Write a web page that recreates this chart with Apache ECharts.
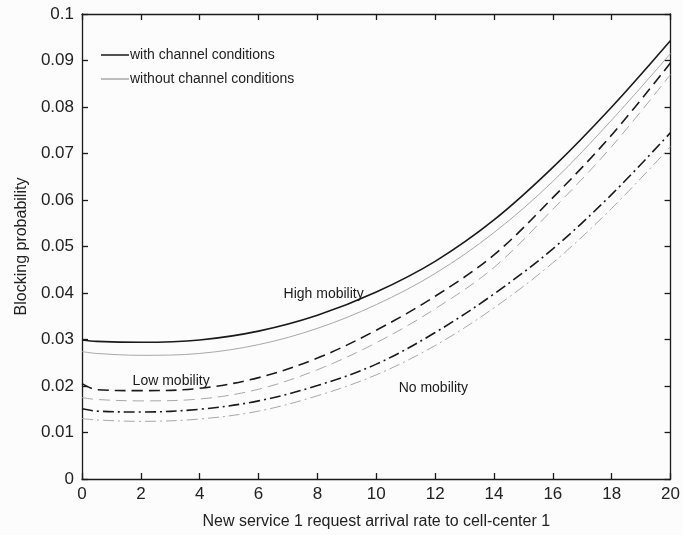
<!DOCTYPE html>
<html>
<head>
<meta charset="utf-8">
<script src="https://cdn.jsdelivr.net/npm/echarts@6/dist/echarts.min.js"></script>
<style>
  html, body { margin: 0; padding: 0; background: #fcfcfc; }
  #chart { width: 683px; height: 535px; }
</style>
</head>
<body>
<div id="chart"></div>
<script>
// Arrival rate samples shared by every curve
const arrivalRate = [0, 0.5, 2, 4, 6, 8, 10, 12, 14, 16, 18, 20];

// Blocking probability, with channel conditions (black curves)
const highWith = [0.0299, 0.0296, 0.0294, 0.0299, 0.0318, 0.0352, 0.0402, 0.0468, 0.0557, 0.0670, 0.0800, 0.0943];
const lowWith  = [0.0205, 0.0192, 0.0190, 0.0195, 0.0218, 0.0260, 0.0320, 0.0393, 0.0482, 0.0605, 0.0740, 0.0895];
const noWith   = [0.0151, 0.0146, 0.0144, 0.0150, 0.0168, 0.0201, 0.0247, 0.0315, 0.0398, 0.0495, 0.0612, 0.0745];

// Blocking probability, without channel conditions (grey curves)
const highWithout = [0.0274, 0.0270, 0.0266, 0.0270, 0.0289, 0.0324, 0.0375, 0.0442, 0.0530, 0.0640, 0.0772, 0.0915];
const lowWithout  = [0.0175, 0.0171, 0.0168, 0.0172, 0.0193, 0.0235, 0.0293, 0.0366, 0.0455, 0.0580, 0.0715, 0.0870];
const noWithout   = [0.0130, 0.0127, 0.0124, 0.0129, 0.0146, 0.0179, 0.0224, 0.0287, 0.0368, 0.0465, 0.0582, 0.0715];

const xTicks = [0, 2, 4, 6, 8, 10, 12, 14, 16, 18, 20];
const yTicks = [0, 0.01, 0.02, 0.03, 0.04, 0.05, 0.06, 0.07, 0.08, 0.09, 0.1];

const legendNames = ['with channel conditions', 'without channel conditions'];

// Curve annotations: text and data-space anchor (left edge, vertical centre)
const notes = [
  { text: 'High mobility', x: 6.85, y: 0.0398 },
  { text: 'Low mobility',  x: 1.72, y: 0.0211 },
  { text: 'No mobility',   x: 10.76, y: 0.0195 }
];

const FONT = '"Liberation Sans", Arial, Helvetica, sans-serif';
const INK = '#1a1a1a';
const GREY = '#a8a8a8';

function pairs(ys) { return arrivalRate.map((x, i) => [x, ys[i]]); }

function curve(name, ys, color, width, dash) {
  return {
    name: name,
    type: 'line',
    data: pairs(ys),
    smooth: 0.35,
    symbol: 'none',
    animation: false,
    lineStyle: { color: color, width: width, type: dash },
    itemStyle: { color: color },
    z: color === INK ? 3 : 2
  };
}

const dashed = [11, 6];
const dashDot = [11, 4, 2, 4];

const axisLineStyle = { color: INK, width: 1.3 };

function xAxisDef(pos, showLabels) {
  return {
    type: 'value', position: pos, min: xTicks[0], max: xTicks[xTicks.length - 1],
    interval: xTicks[1] - xTicks[0],
    axisLine: { show: true, onZero: false, lineStyle: axisLineStyle },
    axisTick: { show: true, inside: true, length: 6, lineStyle: axisLineStyle },
    axisLabel: { show: showLabels, fontSize: 17, color: '#222', fontFamily: FONT, margin: 7 },
    splitLine: { show: false },
    name: showLabels ? 'New service 1 request arrival rate to cell-center 1' : '',
    nameLocation: 'middle', nameGap: 35,
    nameTextStyle: { fontSize: 16, color: '#222', fontFamily: FONT }
  };
}

function yAxisDef(pos, showLabels) {
  return {
    type: 'value', position: pos, min: yTicks[0], max: yTicks[yTicks.length - 1],
    interval: 0.01,
    axisLine: { show: true, onZero: false, lineStyle: axisLineStyle },
    axisTick: { show: true, inside: true, length: 6, lineStyle: axisLineStyle },
    axisLabel: {
      show: showLabels, fontSize: 17, color: '#222', fontFamily: FONT, margin: 8,
      formatter: v => String(+v.toFixed(2))
    },
    splitLine: { show: false },
    name: showLabels ? 'Blocking probability' : '',
    nameLocation: 'middle', nameGap: 52,
    nameTextStyle: { fontSize: 16, color: '#222', fontFamily: FONT }
  };
}

const chart = echarts.init(document.getElementById('chart'), null, { renderer: 'canvas' });

chart.setOption({
  backgroundColor: '#fcfcfc',
  animation: false,
  grid: { left: 82, right: 8, top: 14, bottom: 50, containLabel: false },
  legend: {
    data: [
      { name: legendNames[0], icon: 'rect', itemStyle: { color: INK } },
      { name: legendNames[1], icon: 'rect', itemStyle: { color: GREY } }
    ],
    orient: 'vertical',
    left: 96, top: 43,
    itemWidth: 28, itemHeight: 1.5, itemGap: 10,
    textStyle: { fontSize: 14, color: '#222', fontFamily: FONT, padding: [0, 0, 0, -4] },
    selectedMode: false
  },
  xAxis: [xAxisDef('bottom', true), xAxisDef('top', false)],
  yAxis: [yAxisDef('left', true), yAxisDef('right', false)],
  series: [
    curve('without channel conditions', highWithout, GREY, 1, 'solid'),
    curve('without, low', lowWithout, GREY, 1, dashed),
    curve('without, none', noWithout, GREY, 1, dashDot),
    curve('with channel conditions', highWith, INK, 1.6, 'solid'),
    curve('with, low', lowWith, INK, 1.6, dashed),
    curve('with, none', noWith, INK, 1.6, dashDot)
  ]
});

// Place the curve annotations at their data-space anchors
chart.setOption({
  graphic: notes.map(n => {
    const p = chart.convertToPixel({ xAxisIndex: 0, yAxisIndex: 0 }, [n.x, n.y]);
    return {
      type: 'text', x: p[0], y: p[1], z: 10,
      style: { text: n.text, fontSize: 14, fill: '#1a1a1a', fontFamily: FONT, verticalAlign: 'middle' }
    };
  })
});
</script>
</body>
</html>
